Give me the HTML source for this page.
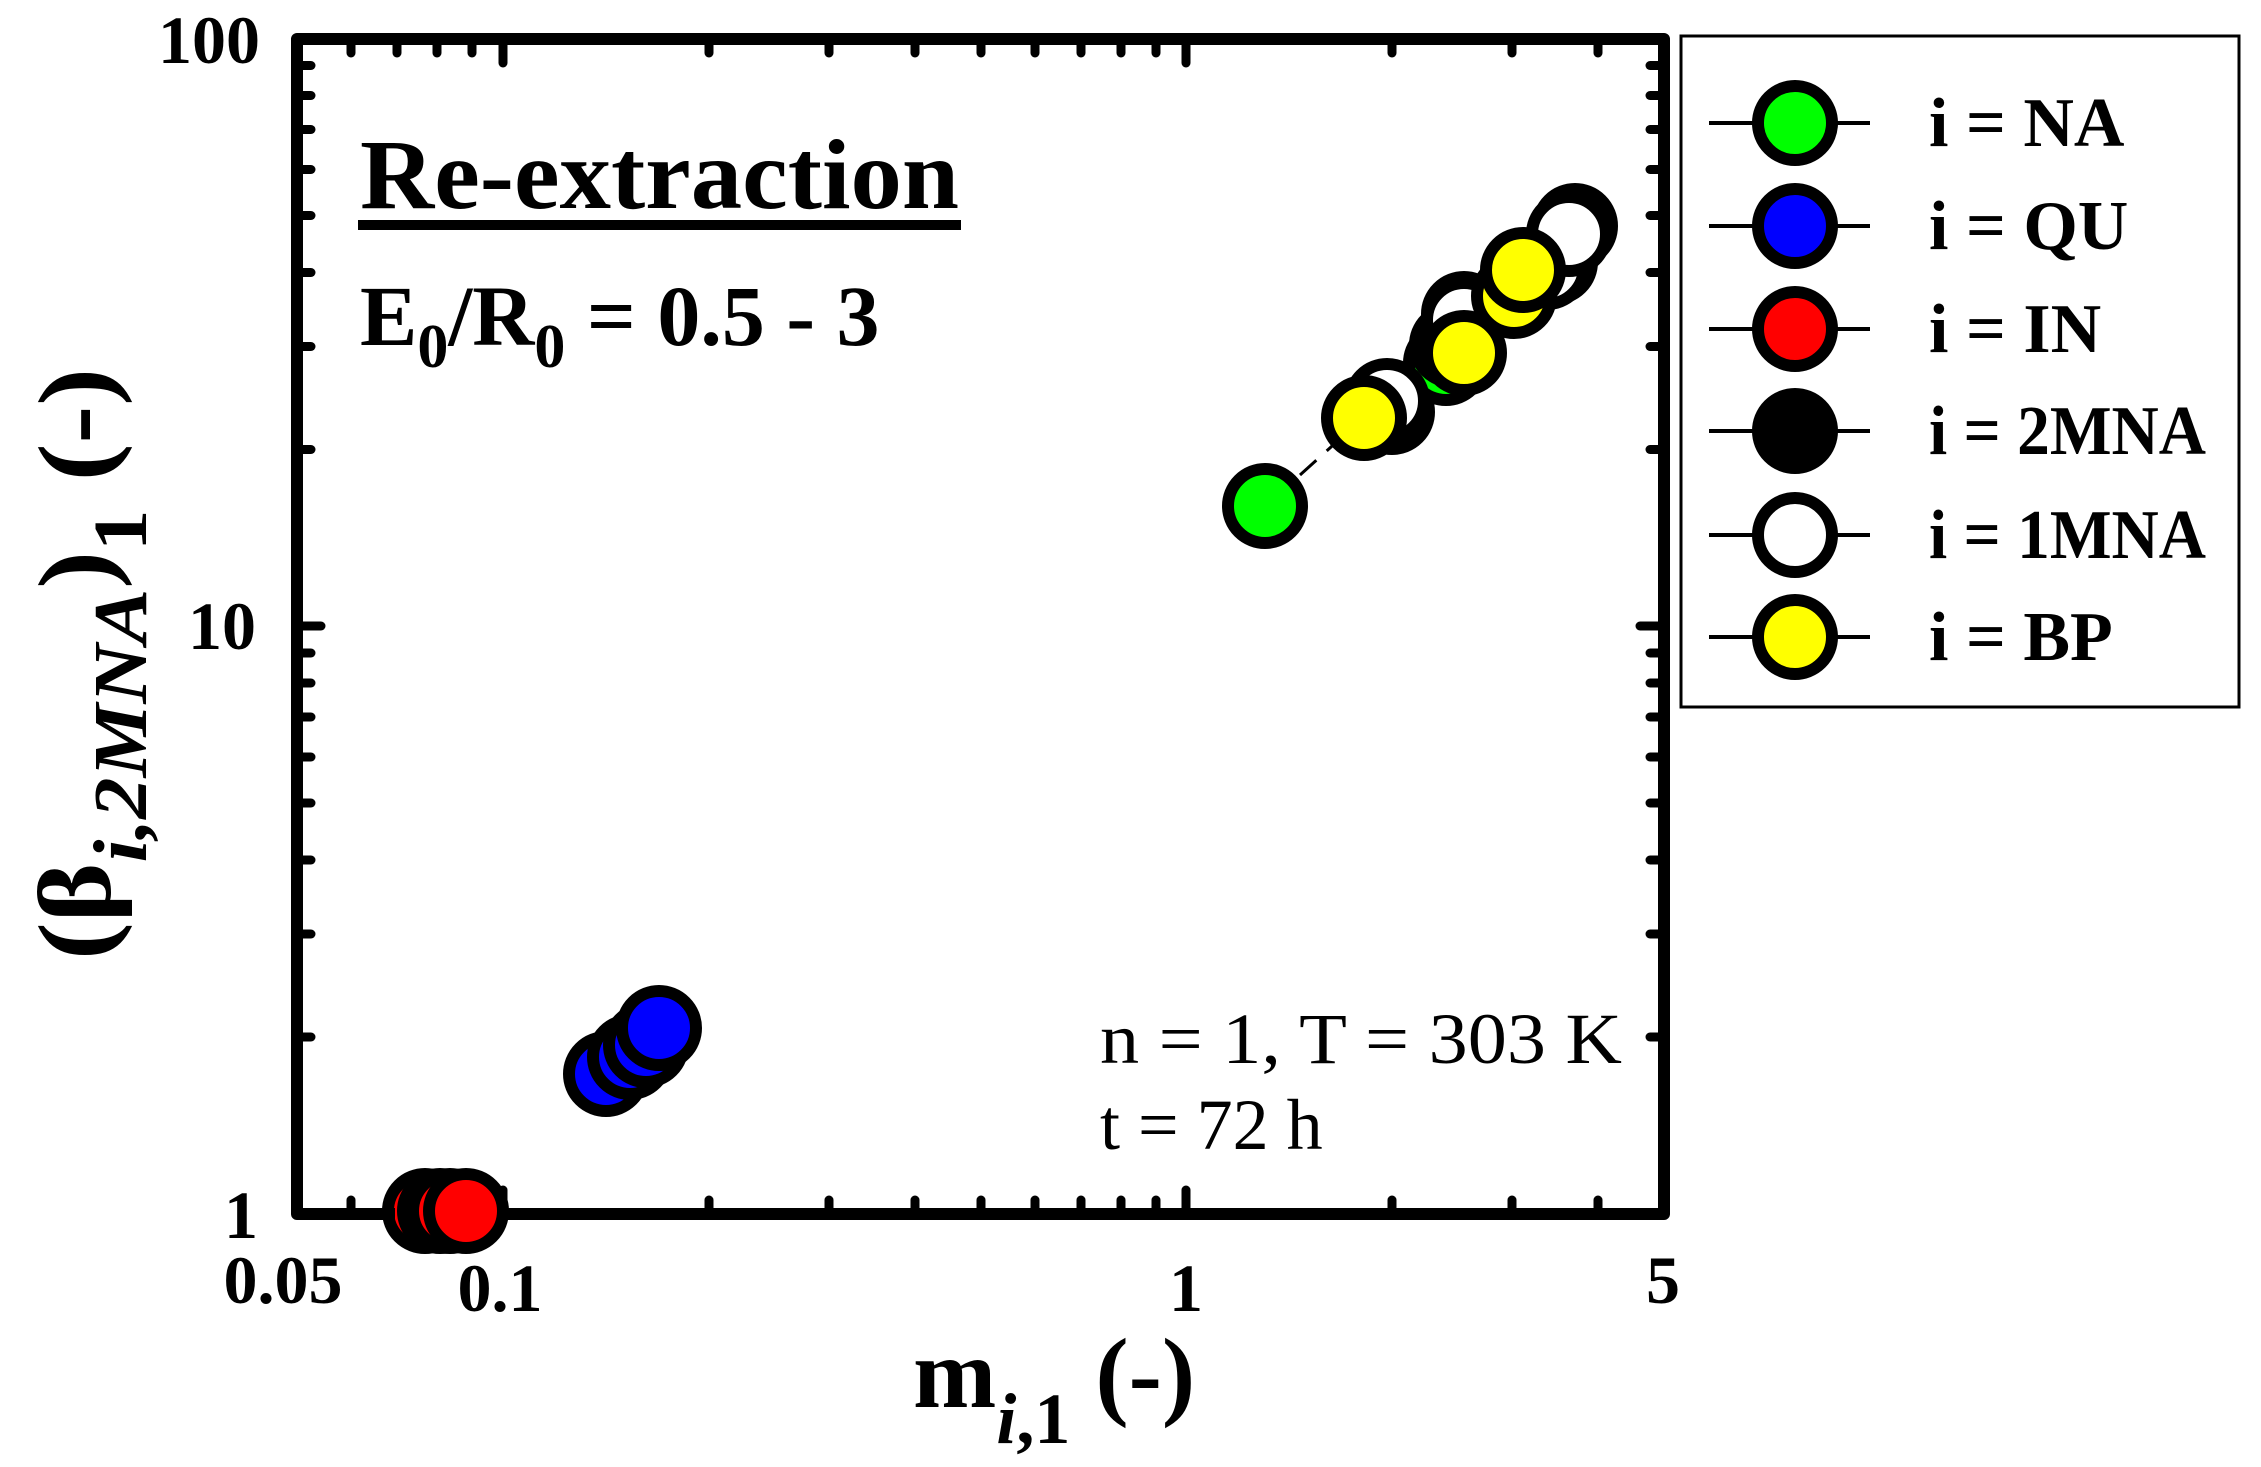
<!DOCTYPE html>
<html><head><meta charset="utf-8"><style>
html,body{margin:0;padding:0;background:#fff;}
svg{display:block;}
text{font-family:"Liberation Serif",serif;fill:#000;}
</style></head><body>
<svg width="2261" height="1467" viewBox="0 0 2261 1467" xmlns="http://www.w3.org/2000/svg">
<defs>
<clipPath id="pc"><rect x="297" y="39" width="1367" height="1175"/></clipPath>
</defs>
<g stroke="#000" stroke-width="9" stroke-linecap="round">
<line x1="503" y1="1214" x2="503" y2="1190"/><line x1="503" y1="39" x2="503" y2="63"/>
<line x1="1186" y1="1214" x2="1186" y2="1190"/><line x1="1186" y1="39" x2="1186" y2="63"/>
<line x1="351" y1="1214" x2="351" y2="1200"/><line x1="351" y1="39" x2="351" y2="53"/>
<line x1="397" y1="1214" x2="397" y2="1200"/><line x1="397" y1="39" x2="397" y2="53"/>
<line x1="437" y1="1214" x2="437" y2="1200"/><line x1="437" y1="39" x2="437" y2="53"/>
<line x1="472" y1="1214" x2="472" y2="1200"/><line x1="472" y1="39" x2="472" y2="53"/>
<line x1="709" y1="1214" x2="709" y2="1200"/><line x1="709" y1="39" x2="709" y2="53"/>
<line x1="829" y1="1214" x2="829" y2="1200"/><line x1="829" y1="39" x2="829" y2="53"/>
<line x1="915" y1="1214" x2="915" y2="1200"/><line x1="915" y1="39" x2="915" y2="53"/>
<line x1="981" y1="1214" x2="981" y2="1200"/><line x1="981" y1="39" x2="981" y2="53"/>
<line x1="1035" y1="1214" x2="1035" y2="1200"/><line x1="1035" y1="39" x2="1035" y2="53"/>
<line x1="1081" y1="1214" x2="1081" y2="1200"/><line x1="1081" y1="39" x2="1081" y2="53"/>
<line x1="1121" y1="1214" x2="1121" y2="1200"/><line x1="1121" y1="39" x2="1121" y2="53"/>
<line x1="1156" y1="1214" x2="1156" y2="1200"/><line x1="1156" y1="39" x2="1156" y2="53"/>
<line x1="1392" y1="1214" x2="1392" y2="1200"/><line x1="1392" y1="39" x2="1392" y2="53"/>
<line x1="1512" y1="1214" x2="1512" y2="1200"/><line x1="1512" y1="39" x2="1512" y2="53"/>
<line x1="1598" y1="1214" x2="1598" y2="1200"/><line x1="1598" y1="39" x2="1598" y2="53"/>
<line x1="297" y1="626" x2="321" y2="626"/><line x1="1664" y1="626" x2="1640" y2="626"/>
<g id="ym">
<line x1="297" y1="1037" x2="311" y2="1037"/><line x1="1664" y1="1037" x2="1650" y2="1037"/>
<line x1="297" y1="934" x2="311" y2="934"/><line x1="1664" y1="934" x2="1650" y2="934"/>
<line x1="297" y1="860" x2="311" y2="860"/><line x1="1664" y1="860" x2="1650" y2="860"/>
<line x1="297" y1="803" x2="311" y2="803"/><line x1="1664" y1="803" x2="1650" y2="803"/>
<line x1="297" y1="757" x2="311" y2="757"/><line x1="1664" y1="757" x2="1650" y2="757"/>
<line x1="297" y1="717" x2="311" y2="717"/><line x1="1664" y1="717" x2="1650" y2="717"/>
<line x1="297" y1="683" x2="311" y2="683"/><line x1="1664" y1="683" x2="1650" y2="683"/>
<line x1="297" y1="653" x2="311" y2="653"/><line x1="1664" y1="653" x2="1650" y2="653"/>
</g>
<use href="#ym" transform="translate(0,-587.5)"/>
</g>
<g clip-path="url(#pc)">
<line x1="1300" y1="475" x2="1560" y2="240" stroke="#000" stroke-width="3" stroke-dasharray="22,14"/>
<g stroke="#000" stroke-width="12">
<circle cx="1265" cy="506" r="37" fill="#00ff00"/>
<circle cx="1446" cy="363" r="37" fill="#00ff00"/>
<circle cx="1464" cy="314" r="37" fill="#00ff00"/>
<circle cx="606" cy="1074" r="37" fill="#0000ff"/>
<circle cx="630" cy="1057" r="37" fill="#0000ff"/>
<circle cx="646" cy="1045" r="37" fill="#0000ff"/>
<circle cx="659" cy="1028" r="37" fill="#0000ff"/>
<circle cx="1392" cy="412" r="37" fill="#000"/>
<circle cx="1452" cy="345" r="37" fill="#000"/>
<circle cx="1555" cy="262" r="37" fill="#000"/>
<circle cx="1575" cy="226" r="37" fill="#000"/>
<circle cx="1387" cy="401" r="37" fill="#fff"/>
<circle cx="1464" cy="320" r="37" fill="#fff"/>
<circle cx="1547" cy="267" r="37" fill="#fff"/>
<circle cx="1569" cy="234" r="37" fill="#fff"/>
<circle cx="1364" cy="418" r="37" fill="#ffff00"/>
<circle cx="1464" cy="353" r="37" fill="#ffff00"/>
<circle cx="1514" cy="296" r="37" fill="#ffff00"/>
<circle cx="1523" cy="270" r="37" fill="#ffff00"/>
</g>
</g>
<path d="M297 39 H1664 V1214 H297 Z" fill="none" stroke="#000" stroke-width="12" stroke-linejoin="round"/>
<g stroke="#000" stroke-width="12">
<circle cx="425" cy="1211" r="37" fill="#ff0000"/>
<circle cx="440" cy="1211" r="37" fill="#ff0000"/>
<circle cx="450" cy="1211" r="37" fill="#ff0000"/>
<circle cx="466" cy="1211" r="37" fill="#ff0000"/>
</g>
<line x1="297" y1="1214" x2="395" y2="1214" stroke="#000" stroke-width="12"/>
<line x1="500" y1="1214" x2="1664" y2="1214" stroke="#000" stroke-width="12"/>
<g font-weight="bold" font-size="68">
<text x="260" y="63" text-anchor="end">100</text>
<text x="256" y="649" text-anchor="end">10</text>
<text x="258" y="1238" text-anchor="end">1</text>
<text x="283" y="1303" text-anchor="middle">0.05</text>
<text x="500" y="1311" text-anchor="middle">0.1</text>
<text x="1186" y="1311" text-anchor="middle">1</text>
<text x="1663" y="1303" text-anchor="middle">5</text>
</g>
<text x="913" y="1407" font-weight="bold" font-size="100">m<tspan font-style="italic" font-size="72" dy="36">i</tspan><tspan font-size="72">,1</tspan><tspan dy="-36"> (-)</tspan></text>
<g transform="translate(110,960) rotate(-90)">
<text x="0" y="0" font-weight="bold" font-size="104" textLength="592" lengthAdjust="spacingAndGlyphs">(β<tspan font-style="italic" font-size="76" dy="36">i,2MNA</tspan><tspan dy="-36">)</tspan><tspan font-size="76" dy="36">1</tspan><tspan dy="-36"> (-)</tspan></text>
</g>
<text x="360" y="208" font-weight="bold" font-size="100" textLength="599" lengthAdjust="spacingAndGlyphs">Re-extraction</text>
<rect x="358" y="220" width="603" height="10" fill="#000"/>
<text x="360" y="345" font-weight="bold" font-size="86">E<tspan font-size="62" dy="22">0</tspan><tspan dy="-22">/R</tspan><tspan font-size="62" dy="22">0</tspan><tspan dy="-22"> = 0.5 - 3</tspan></text>
<text x="1100" y="1063" font-size="72" textLength="522" lengthAdjust="spacingAndGlyphs">n = 1, T = 303 K</text>
<text x="1100" y="1149" font-size="72">t = 72 h</text>
<rect x="1681" y="36" width="558" height="671" fill="#fff" stroke="#000" stroke-width="3"/>
<g stroke="#000">
<g stroke-width="4"><line x1="1709" y1="123" x2="1870" y2="123"/><line x1="1709" y1="226" x2="1870" y2="226"/><line x1="1709" y1="329" x2="1870" y2="329"/><line x1="1709" y1="431" x2="1870" y2="431"/><line x1="1709" y1="535" x2="1870" y2="535"/><line x1="1709" y1="637" x2="1870" y2="637"/></g>
<g stroke-width="12">
<circle cx="1795" cy="123" r="37" fill="#00ff00"/>
<circle cx="1795" cy="226" r="37" fill="#0000ff"/>
<circle cx="1795" cy="329" r="37" fill="#ff0000"/>
<circle cx="1795" cy="431" r="37" fill="#000"/>
<circle cx="1795" cy="535" r="37" fill="#fff"/>
<circle cx="1795" cy="637" r="37" fill="#ffff00"/>
</g>
</g>
<g font-weight="bold" font-size="70">
<text x="1929" y="146">i = NA</text>
<text x="1929" y="249">i = QU</text>
<text x="1929" y="352">i = IN</text>
<text x="1929" y="454" textLength="277" lengthAdjust="spacingAndGlyphs">i = 2MNA</text>
<text x="1929" y="558" textLength="277" lengthAdjust="spacingAndGlyphs">i = 1MNA</text>
<text x="1929" y="660">i = BP</text>
</g>
</svg>
</body></html>
